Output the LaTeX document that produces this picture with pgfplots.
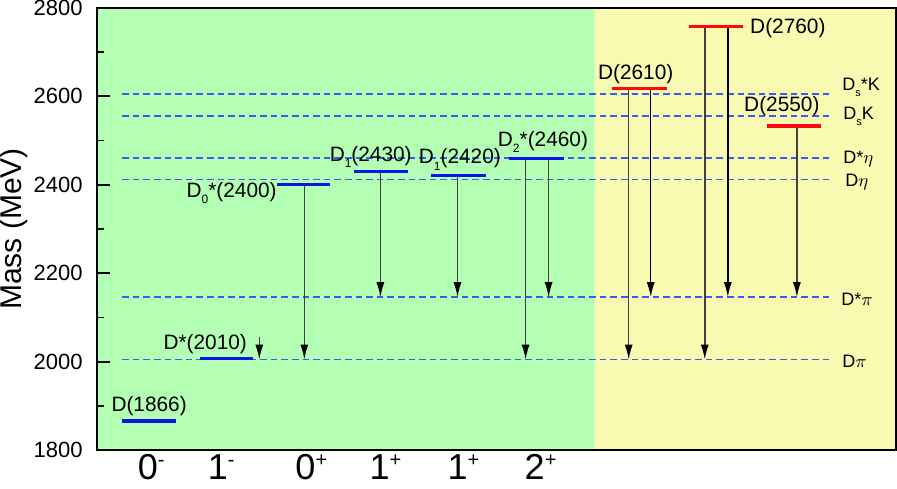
\documentclass[border=0pt]{standalone}
\usepackage{fontspec}
\setmainfont{Liberation Sans}
\usepackage{pgfplots}
\pgfplotsset{compat=1.18}
\usetikzlibrary{arrows.meta}
\definecolor{bggreen}{RGB}{179,255,179}
\definecolor{bgyellow}{RGB}{248,250,178}
\definecolor{lvlblue}{RGB}{10,20,230}
\definecolor{lvlred}{RGB}{250,10,10}
\definecolor{thrblue}{RGB}{60,90,240}
\newcommand{\lbl}{\fontsize{10.4}{12}\selectfont}
\newcommand{\thr}{\fontsize{9}{11}\selectfont}
\newcommand{\sub}[1]{\raisebox{-3.2pt}{\fontsize{6}{7}\selectfont #1}}
\newcommand{\ssub}[1]{\raisebox{-2.8pt}{\fontsize{5.5}{6}\selectfont #1}}
\newcommand{\jp}[2]{#1\raisebox{6.5pt}{\fontsize{10}{10}\selectfont #2}}
\tikzset{
  level/.style={line width=1.6pt},
  thresh/.style={draw=thrblue,line width=0.8pt,dash pattern=on 3.3pt off 2pt},
  decay/.style={black!75,line width=0.75pt,-{Latex[length=7.5pt,width=4pt,color=black]}},
  lab/.style={anchor=base west,inner sep=0pt,font=\lbl},
  tlab/.style={anchor=base west,inner sep=0pt,font=\thr},
}
\begin{document}
\begin{tikzpicture}
\begin{axis}[name=main,scale only axis,width=399pt,height=221pt,
  xmin=97,xmax=895,ymin=1800,ymax=2800,
  axis on top,clip=false,
  axis line style={line width=1pt},
  xtick={151,221,311,385,463,540},
  xticklabels={\jp{0}{-},\jp{1}{-},\jp{0}{+},\jp{1}{+},\jp{1}{+},\jp{2}{+}},
  x tick style={draw=none},
  ytick={1800,2000,...,2800},minor y tick num=1,ytick pos=left,tick align=inside,
  major tick length=6.5pt,minor tick length=3.5pt,
  y tick style={line width=0.8pt,black},
  ylabel={Mass (MeV)},
  /pgf/number format/assume math mode=true,
  /pgf/number format/1000 sep={},
  y tick label style={font=\fontsize{11}{13}\selectfont,anchor=east,inner sep=0pt,xshift=-7pt},
  x tick label style={font=\fontsize{18}{20}\selectfont,anchor=north,inner sep=0pt,yshift=-2pt},
  ylabel style={font=\fontsize{15}{18}\selectfont,at={(axis description cs:-0.086,0.5)},anchor=south,inner sep=0pt},
]
% backgrounds
\addplot[draw=none,fill=bggreen] coordinates {(97,1800)(594,1800)(594,2800)(97,2800)} \closedcycle;
\addplot[draw=none,fill=bgyellow] coordinates {(594,1800)(895,1800)(895,2800)(594,2800)} \closedcycle;
% thresholds
\addplot[thresh] coordinates {(122,2605)(830,2605)};
\addplot[thresh] coordinates {(122,2555)(830,2555)};
\addplot[thresh] coordinates {(122,2460)(830,2460)};
\addplot[thresh] coordinates {(122,2412)(830,2412)};
\addplot[thresh] coordinates {(122,2146)(830,2146)};
\addplot[thresh] coordinates {(122,2005)(830,2005)};
% decays
\addplot[decay] coordinates {(259,2057)(259,2005)};
\addplot[decay] coordinates {(304,2400)(304,2005)};
\addplot[decay] coordinates {(380,2430)(380,2146)};
\addplot[decay] coordinates {(457,2421)(457,2146)};
\addplot[decay] coordinates {(525,2460)(525,2005)};
\addplot[decay] coordinates {(548,2460)(548,2146)};
\addplot[decay] coordinates {(628,2617)(628,2005)};
\addplot[decay,black] coordinates {(650,2617)(650,2146)};
\addplot[decay] coordinates {(704,2757)(704,2005)};
\addplot[decay,black] coordinates {(727,2757)(727,2146)};
\addplot[decay] coordinates {(796,2533)(796,2146)};
% levels
\addplot[level,lvlblue] coordinates {(122,1866)(176,1866)};
\addplot[level,lvlblue] coordinates {(200,2008)(253,2008)};
\addplot[level,lvlblue] coordinates {(277,2400)(330,2400)};
\addplot[level,lvlblue] coordinates {(354,2430)(408,2430)};
\addplot[level,lvlblue] coordinates {(431,2421)(485,2421)};
\addplot[level,lvlblue] coordinates {(508,2460)(563,2460)};
\addplot[level,lvlred] coordinates {(611,2617)(666,2617)};
\addplot[level,lvlred] coordinates {(688,2757)(742,2757)};
\addplot[level,lvlred] coordinates {(766,2533)(820,2533)};
% level labels
\node[lab] at (axis cs:111,1888) {D(1866)};
\node[lab] at (axis cs:163,2027) {D*(2010)};
\node[lab] at (axis cs:186,2372) {D\sub{0}*(2400)};
\node[lab] at (axis cs:329,2453) {D\sub{1}(2430)};
\node[lab] at (axis cs:418,2447) {D\sub{1}(2420)};
\node[lab] at (axis cs:497,2487) {D\sub{2}*(2460)};
\node[lab] at (axis cs:597,2638) {D(2610)};
\node[lab] at (axis cs:749,2741) {D(2760)};
\node[lab] at (axis cs:743,2566) {D(2550)};
% threshold labels
\node[tlab] at (axis cs:841,2613) {D\ssub{s}*K};
\node[tlab] at (axis cs:842,2547) {D\ssub{s}K};
\node[tlab] at (axis cs:842,2448) {D*$\eta$};
\node[tlab] at (axis cs:844,2397) {D$\eta$};
\node[tlab] at (axis cs:840,2127) {D*$\pi$};
\node[tlab] at (axis cs:841,1988) {D$\pi$};
\end{axis}
\path (main.south west) ++(0,-19pt) coordinate (pad);
\path (pad) rectangle ++(1pt,1pt);
\end{tikzpicture}
\end{document}
